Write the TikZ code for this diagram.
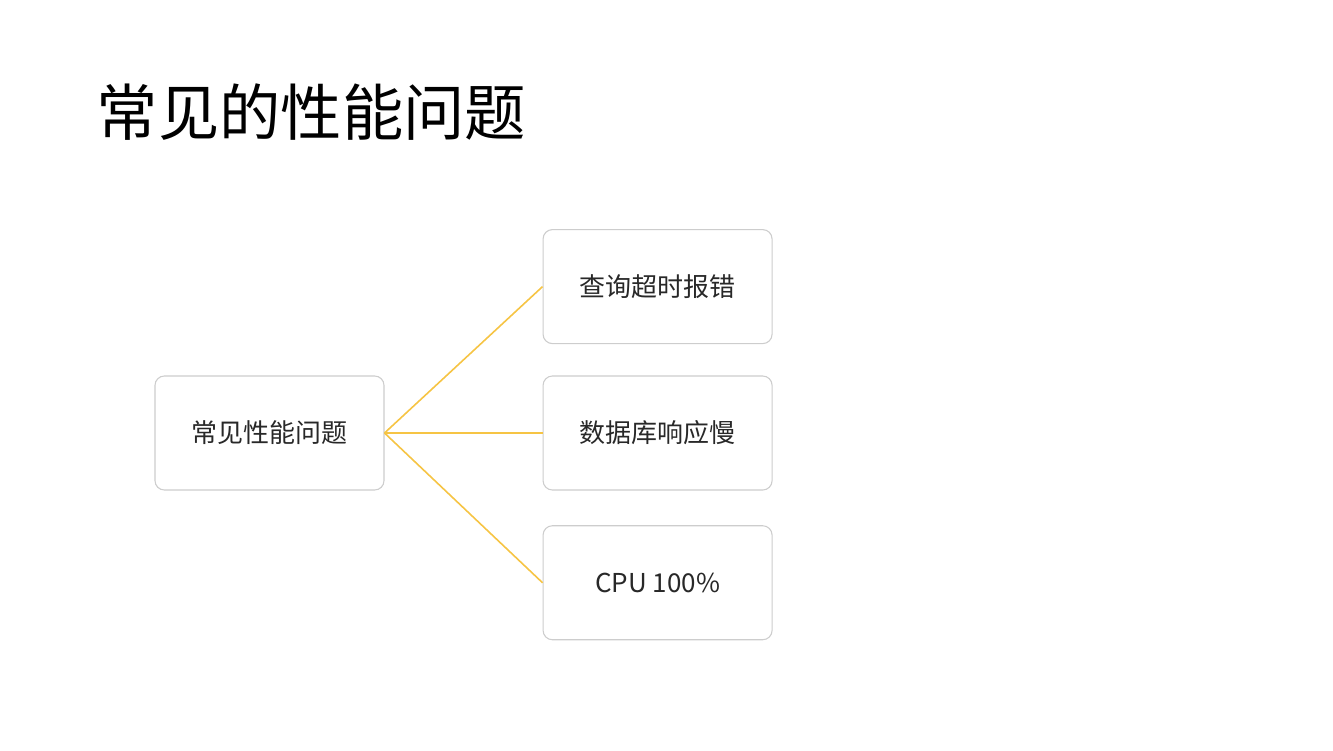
\documentclass[tikz,border=0pt]{standalone}
\usepackage{fontspec}
\setmainfont{Noto Sans CJK SC}
\usetikzlibrary{positioning}

\definecolor{boxline}{RGB}{205,205,205}
\definecolor{boxtext}{RGB}{40,40,40}
\definecolor{linkyellow}{RGB}{246,196,68}

\begin{document}
\begin{tikzpicture}[
    x=0.75pt, y=-0.75pt,
    node distance=24pt and 118.5pt,
    topic/.style={rectangle, rounded corners=7pt, draw=boxline, line width=0.8pt,
        fill=white, minimum width=171.75pt, minimum height=85.5pt,
        text=boxtext, font=\fontsize{19.5}{23}\selectfont, inner sep=0pt},
    link/.style={draw=linkyellow, line width=1.2pt},
]
\useasboundingbox (0,0) rectangle (1333,750);

\node[anchor=west, font=\fontsize{46}{55}\selectfont, text=black] (title) at (92,112)
    {常见的性能问题};

\node[topic] (root) at (269.5,433) {常见性能问题};
\node[topic, right=of root] (slow) {数据库响应慢};
\node[topic, above=23.5pt of slow] (timeout) {查询超时报错};
\node[topic, below=26pt of slow] (cpu) {CPU 100\%};

\draw[link] (root.east) -- (timeout.west);
\draw[link] (root.east) -- (slow.west);
\draw[link] (root.east) -- (cpu.west);

\end{tikzpicture}
\end{document}
